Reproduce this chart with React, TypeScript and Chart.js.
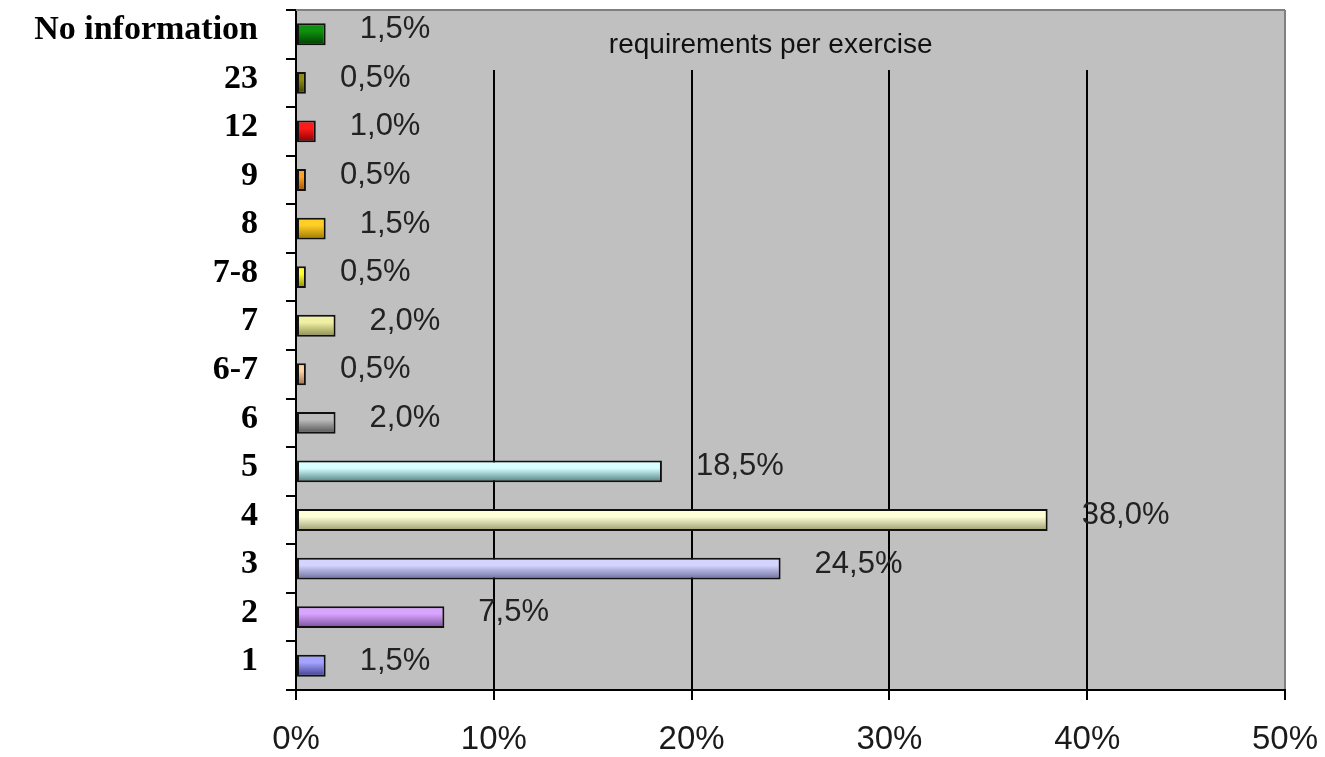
import React, { useEffect, useRef } from "react";
import { Chart, registerables } from "chart.js";

Chart.register(...registerables);

const categories = ["No information", "23", "12", "9", "8", "7-8", "7", "6-7", "6", "5", "4", "3", "2", "1"];
const shares = [1.5, 0.5, 1.0, 0.5, 1.5, 0.5, 2.0, 0.5, 2.0, 18.5, 38.0, 24.5, 7.5, 1.5];
const xTicks = [0, 10, 20, 30, 40, 50];
const chartTitle = "requirements per exercise";

const lightColors = ["#10900f", "#8c8c12", "#ff1a1a", "#ffa328", "#ffcf26", "#ffff33", "#f0f0a4", "#ffd3a6", "#bdbdbd", "#d8ffff", "#ffffd8", "#d4d4ff", "#d8a4ff", "#a4a4ff"];
const darkColors = ["#003c00", "#3e3e00", "#880000", "#9c5200", "#9c7600", "#8a8a00", "#8a8a4e", "#9a6c4c", "#4e4e4e", "#4c7c7c", "#9a9a6c", "#6c6c9c", "#784a98", "#3c3c8c"];

const fmt = (v: number) => v.toFixed(1).replace(".", ",") + "%";

const decor = {
  id: "decor",
  beforeDraw(chart: any) {
    const { ctx, chartArea: a } = chart;
    ctx.save();
    ctx.fillStyle = "#c0c0c0";
    ctx.fillRect(a.left, a.top, a.width, a.height);
    ctx.restore();
  },
  beforeDatasetsDraw(chart: any) {
    const { ctx, chartArea: a } = chart;
    ctx.save();
    ctx.fillStyle = "#c0c0c0";
    ctx.fillRect(a.left + 1, a.top + 1, a.width - 2, 59);
    ctx.strokeStyle = "#808080";
    ctx.lineWidth = 2;
    ctx.beginPath();
    ctx.moveTo(a.left, a.top);
    ctx.lineTo(a.right, a.top);
    ctx.stroke();
    ctx.fillStyle = "#111";
    ctx.font = "28px 'Liberation Sans', Arial, sans-serif";
    ctx.textAlign = "center";
    ctx.textBaseline = "alphabetic";
    ctx.fillText(chartTitle, a.left + a.width * 0.48, a.top + 43);
    ctx.restore();
  },
  afterDatasetsDraw(chart: any) {
    const { ctx } = chart;
    const meta = chart.getDatasetMeta(0);
    ctx.save();
    ctx.fillStyle = "#222";
    ctx.font = "31px 'Liberation Sans', Arial, sans-serif";
    ctx.textAlign = "left";
    ctx.textBaseline = "alphabetic";
    meta.data.forEach((bar: any, i: number) => {
      ctx.fillText(fmt(shares[i]), bar.x + 34, bar.y + 4);
    });
    ctx.restore();
  },
};

export default function App() {
  const ref = useRef<HTMLCanvasElement | null>(null);
  useEffect(() => {
    if (!ref.current) return;
    const chart = new Chart(ref.current, {
      type: "bar",
      data: {
        labels: categories,
        datasets: [
          {
            data: shares,
            backgroundColor: (c: any) => {
              const ch = c.chart;
              const ys = ch.scales && ch.scales.y;
              if (c.type !== "data" || !ys || !ys.height) return lightColors[c.dataIndex] || "#999";
              const center = ys.getPixelForValue(c.dataIndex);
              const step = ys.height / categories.length;
              const half = step * 0.225;
              const g = ch.ctx.createLinearGradient(0, center - half, 0, center + half);
              g.addColorStop(0, lightColors[c.dataIndex]);
              g.addColorStop(0.35, lightColors[c.dataIndex]);
              g.addColorStop(1, darkColors[c.dataIndex]);
              return g;
            },
            borderColor: "#111",
            borderWidth: 2,
            borderSkipped: false,
            barPercentage: 0.9,
            categoryPercentage: 0.5,
          },
        ],
      },
      plugins: [decor],
      options: {
        indexAxis: "y",
        responsive: false,
        animation: false,
        layout: { padding: { top: 10, right: 40, left: 0, bottom: 0 } },
        plugins: { legend: { display: false }, tooltip: { enabled: false }, title: { display: false } },
        scales: {
          x: {
            type: "linear",
            min: 0,
            max: 50,
            afterBuildTicks: (s: any) => {
              s.ticks = xTicks.map((v) => ({ value: v }));
            },
            afterFit: (s: any) => {
              s.height = 67;
              s.paddingLeft = 0;
              s.paddingRight = 0;
            },
            ticks: {
              callback: (v: any) => v + "%",
              color: "#1a1a1a",
              font: { family: "'Liberation Sans', Arial, sans-serif", size: 33 },
              padding: 20,
              maxRotation: 0,
            },
            grid: {
              color: (c: any) => (c.index === xTicks.length - 1 ? "#808080" : "#000"),
              tickColor: "#000",
              lineWidth: 2,
              tickLength: 10,
            },
            border: { display: true, color: "#000", width: 2 },
          },
          y: {
            type: "category",
            offset: true,
            afterFit: (s: any) => {
              s.width = 296;
              s.paddingTop = 0;
              s.paddingBottom = 0;
            },
            ticks: {
              color: "#000",
              font: { family: "'Liberation Serif', 'Times New Roman', serif", size: 34, weight: "bold" },
              padding: 28,
              labelOffset: -4,
            },
            grid: {
              offset: true,
              drawOnChartArea: false,
              color: "#000",
              lineWidth: 2,
              tickLength: 10,
            },
            border: { display: true, color: "#000", width: 2 },
          },
        },
      },
    } as any);
    return () => chart.destroy();
  }, []);
  return (
    <div style={{ position: "fixed", left: 0, top: 0, width: 1325, height: 757, background: "#fff" }}>
      <canvas ref={ref} width={1325} height={757} />
    </div>
  );
}
